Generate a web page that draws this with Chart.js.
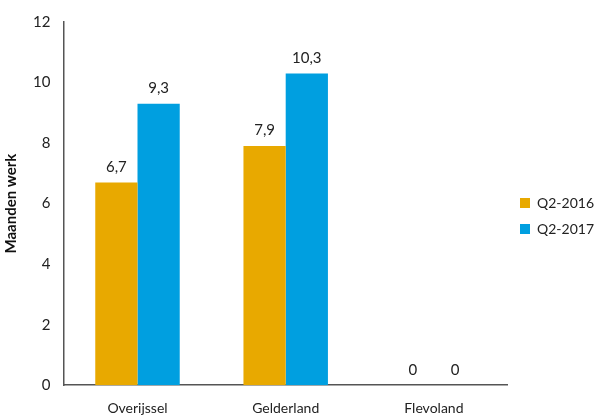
<!DOCTYPE html>
<html>
<head>
<meta charset="utf-8">
<script src="https://cdn.jsdelivr.net/npm/chart.js@4"></script>
<style>
  html, body { margin: 0; padding: 0; background: #fff; }
  #wrap { width: 604px; height: 416px; }
</style>
</head>
<body>
<div id="wrap"><canvas id="chart" width="604" height="416"></canvas></div>
<script>
// Maanden werk per provincie
const categories = ['Overijssel', 'Gelderland', 'Flevoland'];
const q2016 = [6.7, 7.9, 0];
const q2017 = [9.3, 10.3, 0];
const seriesNames = ['Q2-2016', 'Q2-2017'];
const yTicks = [0, 2, 4, 6, 8, 10, 12];

const fontFamily = 'Lato, "Open Sans", sans-serif';

// value labels above the bars, Dutch decimal comma
const valueLabels = {
    id: 'valueLabels',
    afterDatasetsDraw(chart) {
        const ctx = chart.ctx;
        ctx.save();
        ctx.font = '15px ' + fontFamily;
        ctx.fillStyle = '#222';
        ctx.textAlign = 'center';
        ctx.textBaseline = 'bottom';
        chart.data.datasets.forEach((ds, i) => {
            chart.getDatasetMeta(i).data.forEach((bar, j) => {
                const txt = String(ds.data[j]).replace('.', ',');
                ctx.fillText(txt, bar.x, bar.y - 8);
            });
        });
        ctx.restore();
    }
};

new Chart(document.getElementById('chart'), {
    type: 'bar',
    data: {
        labels: categories,
        datasets: [
            { label: seriesNames[0], data: q2016, backgroundColor: '#E8A900' },
            { label: seriesNames[1], data: q2017, backgroundColor: '#009FE0' }
        ]
    },
    options: {
        responsive: false,
        animation: false,
        layout: { padding: { top: 0, right: 0, bottom: -16, left: 0 } },
        datasets: {
            bar: { categoryPercentage: 0.57, barPercentage: 1 }
        },
        scales: {
            x: {
                grid: { display: false, drawTicks: false },
                border: { color: '#555', width: 1.5 },
                ticks: { color: '#222', font: { family: fontFamily, size: 14 }, padding: 15 }
            },
            y: {
                min: 0,
                max: 12,
                afterBuildTicks(axis) { axis.ticks = yTicks.map(v => ({ value: v })); },
                grid: { display: false, drawTicks: false },
                border: { color: '#555', width: 1.5 },
                ticks: { color: '#222', font: { family: fontFamily, size: 15 }, padding: 13 },
                title: {
                    display: true,
                    text: 'Maanden werk',
                    color: '#111',
                    font: { family: fontFamily, size: 15, weight: 'bold' },
                    padding: { top: 2, bottom: 0 }
                }
            }
        },
        plugins: {
            legend: {
                position: 'right',
                labels: {
                    boxWidth: 10,
                    boxHeight: 10,
                    padding: 12,
                    color: '#222',
                    font: { family: fontFamily, size: 14 }
                }
            },
            tooltip: { enabled: false }
        }
    },
    plugins: [valueLabels]
});
</script>
</body>
</html>
